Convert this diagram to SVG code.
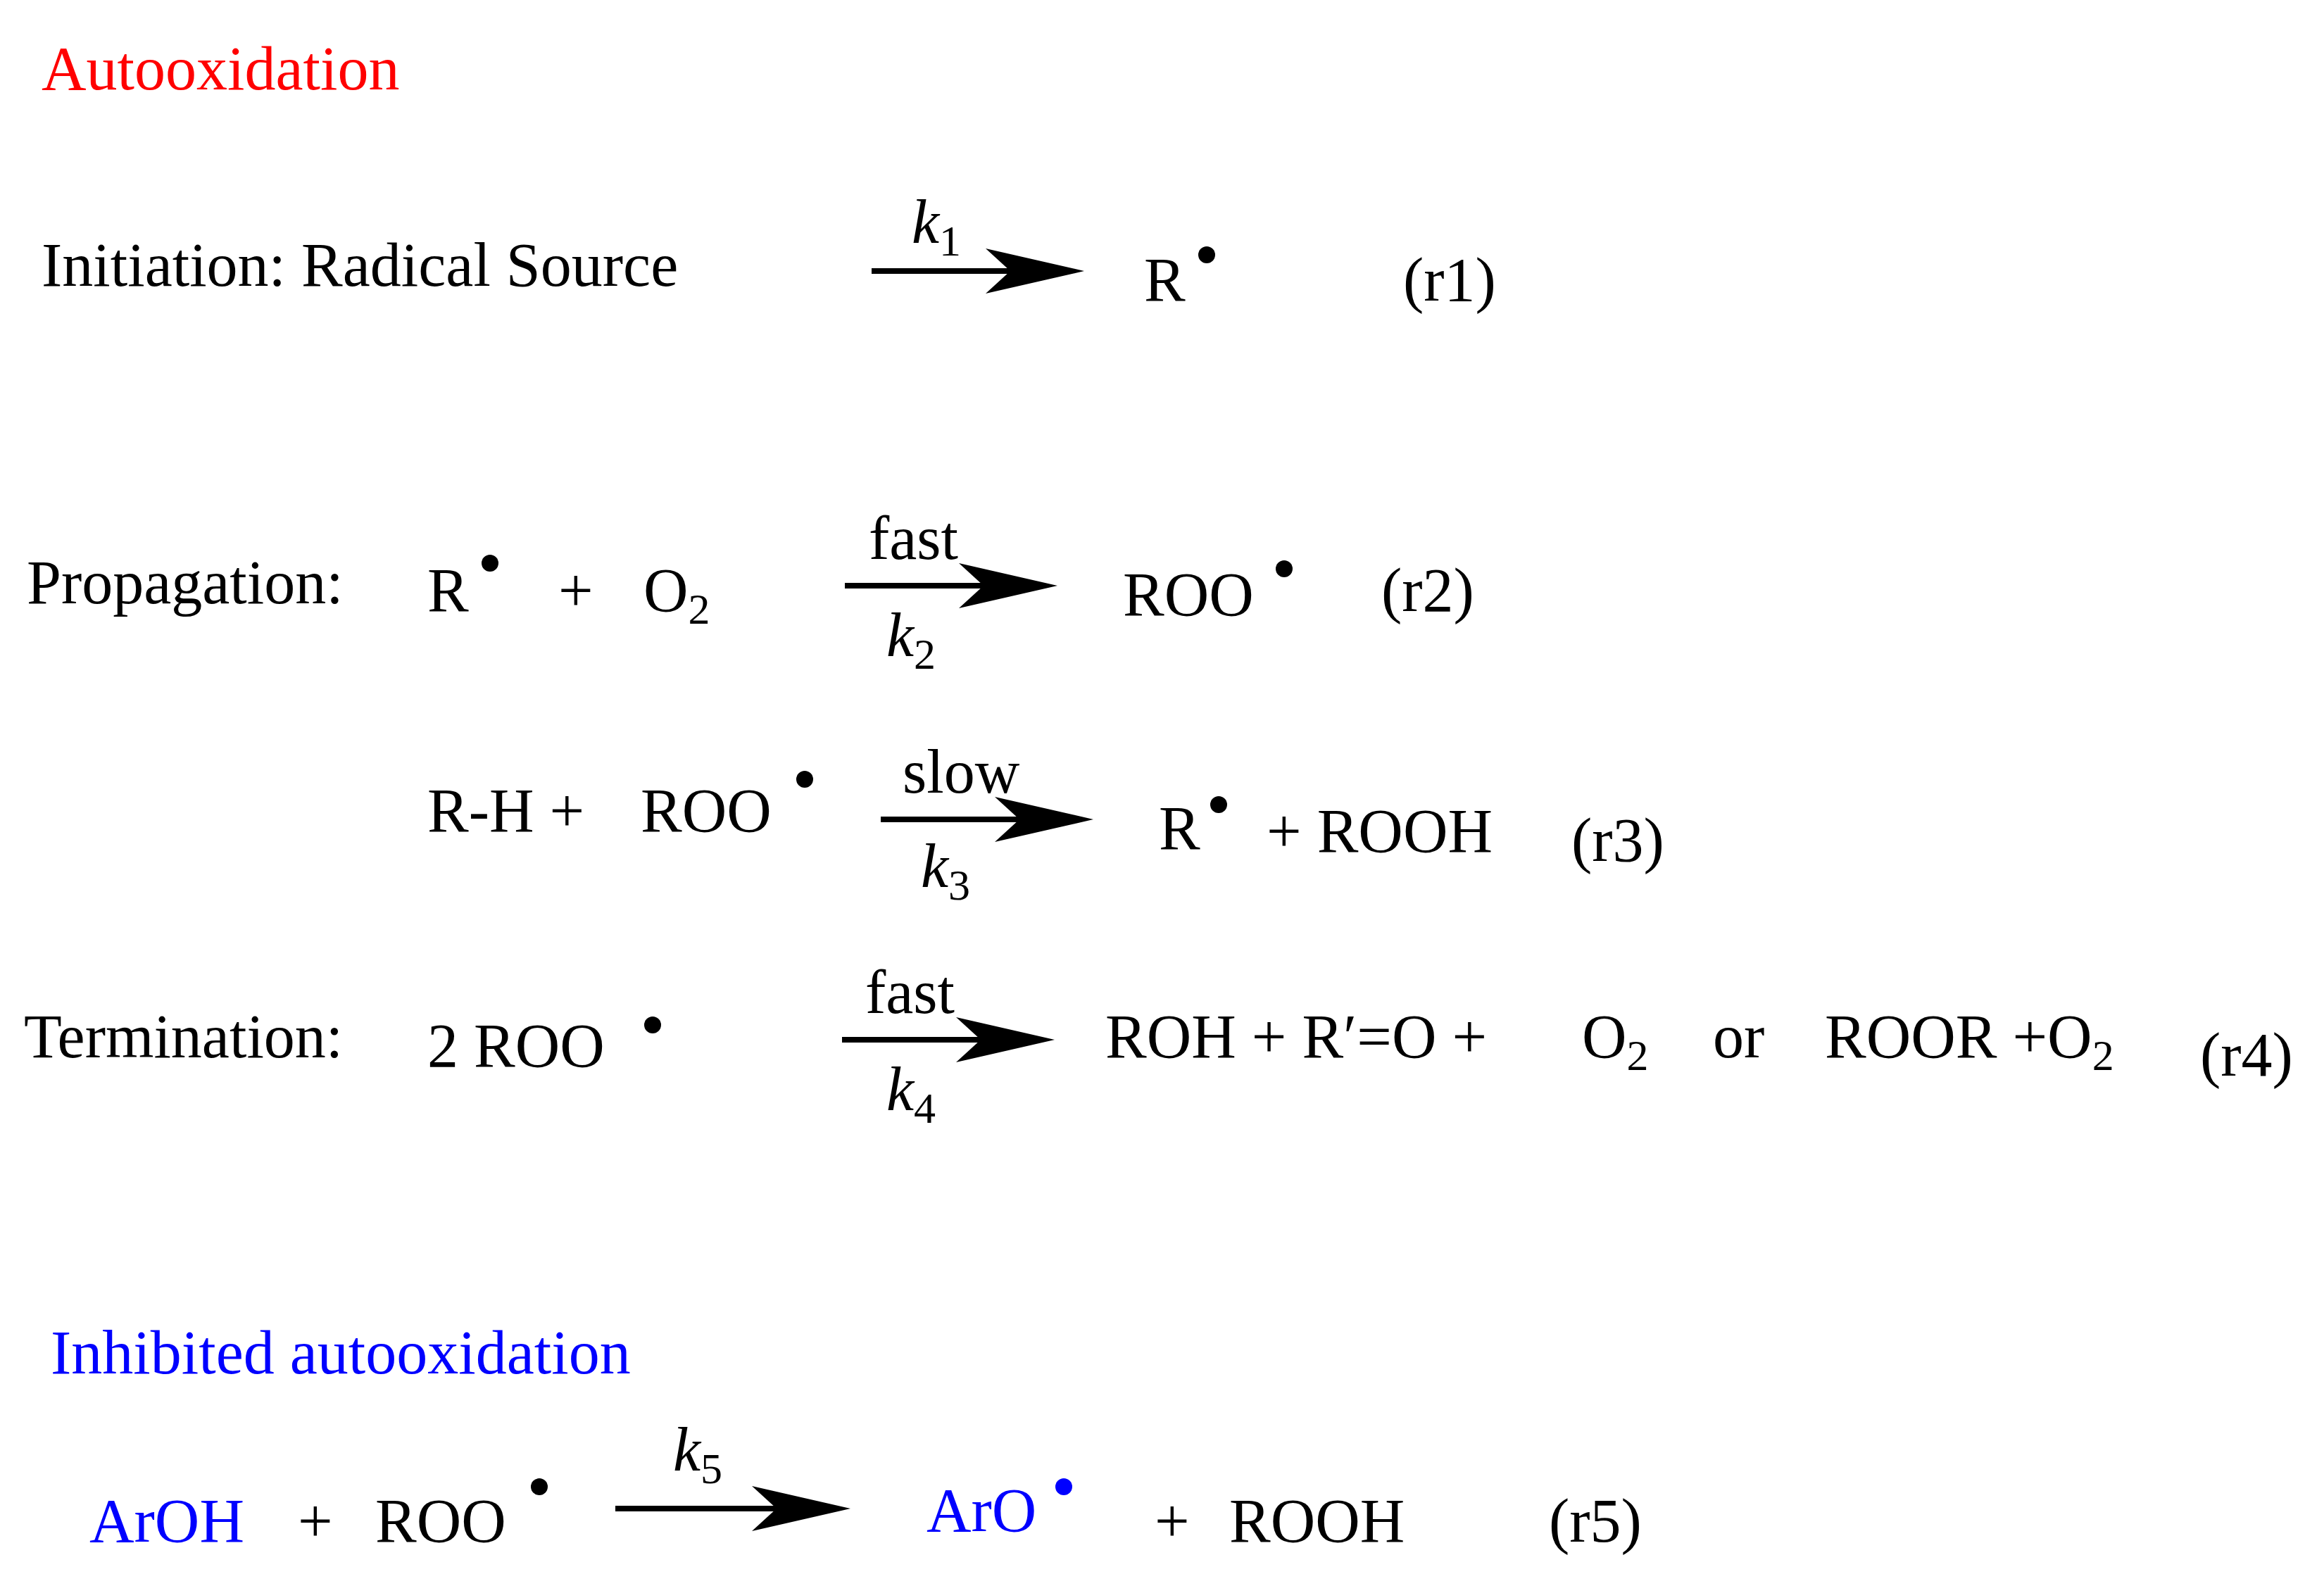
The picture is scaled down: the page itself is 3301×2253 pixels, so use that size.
<svg xmlns="http://www.w3.org/2000/svg" width="3301" height="2253" viewBox="0 0 3301 2253">
<style>
text{font-family:"Liberation Serif","Times New Roman",serif;font-size:88px;fill:#000}
.red{fill:#f00}.blue{fill:#00f}
.k{font-style:italic}
.sub{font-size:62px;font-style:normal}
.ln{stroke:#000;stroke-width:8}
</style>
<defs>
<path id="ah" d="M0,0 L-140,-32 L-105,0 L-140,32 Z" fill="#000"/>
</defs>
<rect width="3301" height="2253" fill="#fff"/>
<g id="titles">
<text x="59" y="127" class="red">Autooxidation</text>
<text x="72" y="1951" class="blue">Inhibited autooxidation</text>
</g>
<g id="connectors">
<line x1="1238" y1="385" x2="1450" y2="385" class="ln"/><use href="#ah" x="1540" y="385"/>
<line x1="1200" y1="832" x2="1410" y2="832" class="ln"/><use href="#ah" x="1502" y="832"/>
<line x1="1251" y1="1164" x2="1460" y2="1164" class="ln"/><use href="#ah" x="1553" y="1164"/>
<line x1="1196" y1="1477" x2="1405" y2="1477" class="ln"/><use href="#ah" x="1498" y="1477"/>
<line x1="874" y1="2143" x2="1115" y2="2143" class="ln"/><use href="#ah" x="1208" y="2143"/>
</g>
<g id="r1">
<text x="59" y="406">Initiation: Radical Source</text>
<text x="1295" y="345" class="k">k<tspan class="sub" dy="18">1</tspan></text>
<text x="1625" y="427">R</text><circle cx="1714" cy="362" r="12"/>
<text x="1993" y="427">(r1)</text>
</g>
<g id="r2">
<text x="38" y="857">Propagation:</text>
<text x="607" y="868">R</text><circle cx="696" cy="800" r="12"/>
<text x="793" y="868">+</text>
<text x="914" y="868">O<tspan class="sub" dy="18">2</tspan></text>
<text x="1234" y="794">fast</text>
<text x="1259" y="932" class="k">k<tspan class="sub" dy="18">2</tspan></text>
<text x="1595" y="874">ROO</text><circle cx="1824" cy="808" r="12"/>
<text x="1962" y="868">(r2)</text>
</g>
<g id="r3">
<text x="607" y="1181">R-H +</text>
<text x="910" y="1181">ROO</text><circle cx="1143" cy="1107" r="12"/>
<text x="1282" y="1126">slow</text>
<text x="1308" y="1260" class="k">k<tspan class="sub" dy="18">3</tspan></text>
<text x="1646" y="1206">R</text><circle cx="1731" cy="1143" r="12"/>
<text x="1799" y="1210">+ ROOH</text>
<text x="2232" y="1223">(r3)</text>
</g>
<g id="r4">
<text x="34" y="1502">Termination:</text>
<text x="607" y="1515">2 ROO</text><circle cx="927" cy="1456" r="12"/>
<text x="1229" y="1439">fast</text>
<text x="1259" y="1577" class="k">k<tspan class="sub" dy="18">4</tspan></text>
<text x="1570" y="1502">ROH + R′=O +</text>
<text x="2247" y="1502">O<tspan class="sub" dy="18">2</tspan></text>
<text x="2433" y="1502">or</text>
<text x="2592" y="1502">ROOR +O<tspan class="sub" dy="18">2</tspan></text>
<text x="3125" y="1528">(r4)</text>
</g>
<g id="r5">
<text x="127" y="2190" class="blue">ArOH</text>
<text x="423" y="2190">+</text>
<text x="533" y="2190">ROO</text><circle cx="766" cy="2112" r="12"/>
<text x="956" y="2089" class="k">k<tspan class="sub" dy="18">5</tspan></text>
<text x="1316" y="2175" class="blue">ArO</text><circle cx="1511" cy="2112" r="12" fill="#00f"/>
<text x="1640" y="2190">+</text>
<text x="1746" y="2190">ROOH</text>
<text x="2200" y="2190">(r5)</text>
</g>
</svg>
